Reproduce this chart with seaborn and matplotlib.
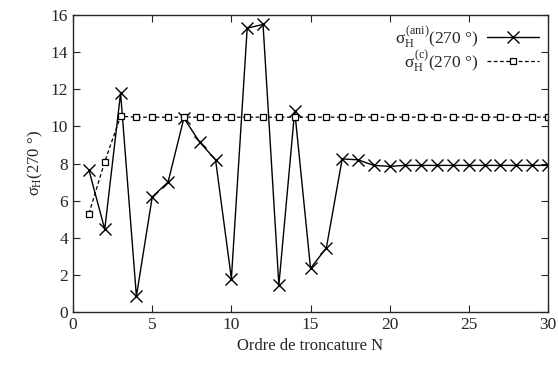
import numpy as np
import pandas as pd
import matplotlib
matplotlib.use('Agg')
import matplotlib.pyplot as plt
import seaborn as sns

# truncation order N
ordre = list(range(1, 31))
# anisotropic solution sigma_H(270 deg)
sigma_ani = [7.65, 4.45, 11.8, 0.85, 6.2, 7.0, 10.45, 9.15, 8.2, 1.8,
             15.3, 15.5, 1.45, 10.85, 2.35, 3.45, 8.25, 8.2, 7.9, 7.85,
             7.9, 7.9, 7.9, 7.9, 7.9, 7.9, 7.9, 7.9, 7.9, 7.9]
# conventional solution
sigma_c = [5.3, 8.1, 10.55] + [10.5] * 27

sns.set_style('ticks')
plt.rcParams['font.family'] = ['Liberation Serif', 'DejaVu Serif']
plt.rcParams['mathtext.fontset'] = 'custom'
plt.rcParams['mathtext.rm'] = 'Liberation Serif'
plt.rcParams['mathtext.it'] = 'Liberation Serif'
plt.rcParams['mathtext.sf'] = 'Liberation Serif'

df = pd.DataFrame({'N': ordre, 'ani': sigma_ani, 'c': sigma_c})

fig = plt.figure(figsize=(5.58, 3.70), dpi=100)
ax = fig.add_axes([0.131, 0.157, 0.851, 0.802])

sns.lineplot(data=df, x='N', y='ani', ax=ax, color='black', lw=1.0,
             marker='x', markersize=8.5, markeredgewidth=1.0,
             markeredgecolor='black',
             label=r'$\sigma_{\mathrm{H}}^{\mathrm{(ani)}}$(270 °)')
sns.lineplot(data=df, x='N', y='c', ax=ax, color='black', lw=0.9,
             linestyle=(0, (3, 2)), marker='s', markersize=4,
             markerfacecolor='white', markeredgecolor='black', markeredgewidth=0.9,
             label=r'$\sigma_{\mathrm{H}}^{\mathrm{(c)}}$(270 °)')

ax.set_xlim(0, 30)
ax.set_ylim(0, 16)
ax.set_xticks(range(0, 31, 5))
ax.set_yticks(range(0, 17, 2))
ax.tick_params(direction='in', top=True, right=True, labelsize=12.5, length=5, width=0.8)
for s in ax.spines.values():
    s.set_linewidth(1.0)
    s.set_visible(True)

ax.set_xlabel('Ordre de troncature N', fontsize=12)
ax.set_ylabel(r'$\sigma_{\mathrm{H}}$(270 °)', fontsize=12)

leg = ax.legend(loc='upper right', frameon=False, markerfirst=False, fontsize=12.5,
                handlelength=3.0, labelspacing=-0.1, borderaxespad=0.3,
                handletextpad=0.5, borderpad=0.2)
for t in leg.get_texts():
    t.set_ha('right')

fig.savefig('out.png', dpi=100)
